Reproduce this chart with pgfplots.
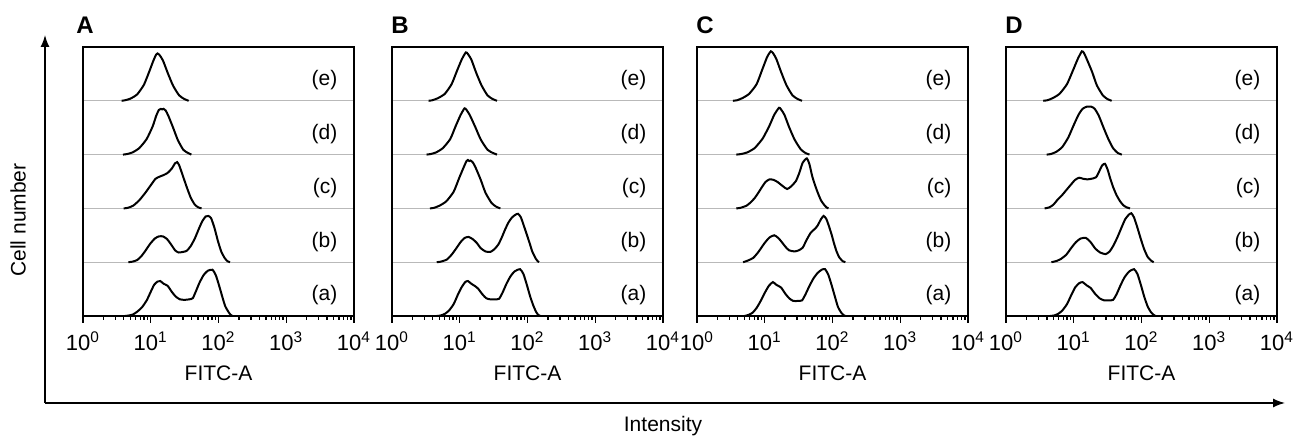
\documentclass[border=0pt]{standalone}
\usepackage{fontspec}
\setmainfont{Liberation Sans}
\usepackage{pgfplots}
\pgfplotsset{compat=1.18}
\usetikzlibrary{arrows.meta}

% x values are log10(FITC-A); y values are stacked histograms (one row per sample)
\pgfplotsset{
  panel/.style={
    scale only axis, width=135.5pt, height=134.5pt, anchor=south west,
    xmin=0, xmax=4, ymin=0, ymax=5, clip=false,
    axis line style={line width=1.1pt},
    xtick={0,1,2,3,4},
    xticklabels={10\textsuperscript{0},10\textsuperscript{1},10\textsuperscript{2},10\textsuperscript{3},10\textsuperscript{4}},
    minor xtick={0.301,0.477,0.602,0.699,0.778,0.845,0.903,0.954,
                 1.301,1.477,1.602,1.699,1.778,1.845,1.903,1.954,
                 2.301,2.477,2.602,2.699,2.778,2.845,2.903,2.954,
                 3.301,3.477,3.602,3.699,3.778,3.845,3.903,3.954},
    xtick pos=bottom, tick align=outside,
    major tick length=3.5pt, minor tick length=2pt,
    tick style={black, line width=0.7pt},
    ytick={1,2,3,4}, yticklabels={}, ymajorgrids,
    y tick style={draw=none},
    major grid style={gray!55, line width=0.6pt},
    tick label style={font=\fontsize{11}{13}\selectfont},
    xticklabel style={yshift=-1pt},
    xlabel={FITC-A},
    xlabel style={at={(axis description cs:0.5,-0.2416)}, anchor=base, font=\fontsize{10.5}{12}\selectfont},
    title style={at={(axis description cs:0,1)}, anchor=base west, inner sep=0pt, xshift=-0.5pt, yshift=0.5pt,
                 font=\bfseries\fontsize{12}{14}\selectfont},
  },
  hist/.style={black, line width=1pt, smooth, tension=0.35, no marks},
  row/.style={hist, y filter/.expression={y+#1}},
}
\newcommand{\rowlabels}{%
  \node[anchor=east, inner sep=0pt, font=\fontsize{10.5}{12}\selectfont] at (axis cs:3.76,4.38) {(e)};
  \node[anchor=east, inner sep=0pt, font=\fontsize{10.5}{12}\selectfont] at (axis cs:3.76,3.38) {(d)};
  \node[anchor=east, inner sep=0pt, font=\fontsize{10.5}{12}\selectfont] at (axis cs:3.76,2.38) {(c)};
  \node[anchor=east, inner sep=0pt, font=\fontsize{10.5}{12}\selectfont] at (axis cs:3.76,1.38) {(b)};
  \node[anchor=east, inner sep=0pt, font=\fontsize{10.5}{12}\selectfont] at (axis cs:3.76,0.38) {(a)};
}

\begin{document}
\begin{tikzpicture}
\path[use as bounding box] (0,0) rectangle (647.5pt,219pt);

% ---------------- A ----------------
\begin{axis}[panel, at={(41.5pt,61pt)}, title={A}, title style={xshift=-3pt}]
\addplot[row=4] coordinates {(0.57,0)(0.62,0.01)(0.70,0.04)(0.80,0.12)(0.90,0.30)(0.98,0.55)(1.04,0.75)(1.08,0.86)(1.10,0.88)(1.13,0.85)(1.18,0.75)(1.25,0.52)(1.33,0.28)(1.42,0.10)(1.50,0.03)(1.56,0)};
\addplot[row=3] coordinates {(0.59,0)(0.65,0.01)(0.73,0.04)(0.83,0.12)(0.94,0.29)(1.03,0.53)(1.08,0.72)(1.12,0.83)(1.15,0.85)(1.17,0.84)(1.19,0.85)(1.22,0.82)(1.26,0.72)(1.33,0.50)(1.40,0.27)(1.48,0.09)(1.55,0.03)(1.60,0)};
\addplot[row=2] coordinates {(0.60,0)(0.66,0.01)(0.74,0.05)(0.83,0.15)(0.92,0.29)(1.00,0.43)(1.07,0.55)(1.13,0.59)(1.19,0.62)(1.25,0.66)(1.31,0.74)(1.36,0.84)(1.39,0.86)(1.42,0.80)(1.47,0.62)(1.53,0.40)(1.59,0.20)(1.65,0.07)(1.70,0.02)(1.75,0)};
\addplot[row=1] coordinates {(0.67,0)(0.73,0.01)(0.80,0.04)(0.86,0.11)(0.92,0.21)(0.99,0.34)(1.06,0.44)(1.12,0.48)(1.18,0.48)(1.24,0.43)(1.30,0.33)(1.36,0.22)(1.41,0.18)(1.47,0.19)(1.53,0.21)(1.59,0.30)(1.65,0.44)(1.71,0.62)(1.76,0.76)(1.81,0.85)(1.85,0.86)(1.89,0.82)(1.94,0.64)(1.99,0.40)(2.04,0.20)(2.09,0.08)(2.13,0.02)(2.17,0)};
\addplot[row=0] coordinates {(0.62,0)(0.68,0.01)(0.74,0.03)(0.80,0.08)(0.87,0.16)(0.94,0.29)(1.00,0.45)(1.05,0.58)(1.10,0.64)(1.14,0.65)(1.19,0.60)(1.25,0.56)(1.31,0.45)(1.37,0.36)(1.43,0.31)(1.50,0.30)(1.57,0.31)(1.62,0.33)(1.67,0.47)(1.72,0.62)(1.78,0.76)(1.84,0.84)(1.91,0.86)(1.96,0.76)(2.01,0.56)(2.06,0.34)(2.10,0.18)(2.15,0.07)(2.18,0.02)(2.21,0)};
\rowlabels
\end{axis}

% ---------------- B ----------------
\begin{axis}[panel, at={(196pt,61pt)}, title={B}]
\addplot[row=4] coordinates {(0.54,0)(0.595,0.01)(0.68,0.05)(0.78,0.13)(0.88,0.31)(0.96,0.56)(1.03,0.77)(1.09,0.90)(1.12,0.87)(1.17,0.77)(1.24,0.53)(1.32,0.29)(1.41,0.10)(1.49,0.03)(1.55,0)};
\addplot[row=3] coordinates {(0.51,0)(0.57,0.01)(0.65,0.04)(0.75,0.12)(0.86,0.29)(0.94,0.53)(1.01,0.73)(1.07,0.86)(1.10,0.83)(1.15,0.73)(1.23,0.51)(1.31,0.28)(1.41,0.09)(1.49,0.03)(1.55,0)};
\addplot[row=2] coordinates {(0.56,0)(0.62,0.01)(0.70,0.05)(0.80,0.13)(0.91,0.31)(0.99,0.56)(1.06,0.77)(1.10,0.88)(1.12,0.90)(1.14,0.88)(1.16,0.89)(1.19,0.86)(1.23,0.77)(1.31,0.53)(1.38,0.29)(1.47,0.10)(1.54,0.03)(1.60,0)};
\addplot[row=1] coordinates {(0.66,0)(0.72,0.01)(0.81,0.05)(0.88,0.14)(0.95,0.26)(1.01,0.37)(1.07,0.45)(1.13,0.47)(1.19,0.43)(1.25,0.36)(1.31,0.26)(1.38,0.20)(1.45,0.19)(1.51,0.24)(1.57,0.33)(1.62,0.46)(1.67,0.61)(1.72,0.74)(1.77,0.83)(1.82,0.88)(1.86,0.90)(1.90,0.84)(1.94,0.70)(1.98,0.55)(2.03,0.36)(2.07,0.20)(2.12,0.07)(2.15,0.02)(2.17,0)};
\addplot[row=0] coordinates {(0.66,0)(0.72,0.01)(0.78,0.04)(0.84,0.10)(0.91,0.22)(0.97,0.39)(1.03,0.54)(1.08,0.63)(1.12,0.65)(1.17,0.60)(1.22,0.56)(1.27,0.51)(1.33,0.41)(1.39,0.33)(1.45,0.31)(1.52,0.31)(1.58,0.32)(1.63,0.43)(1.69,0.60)(1.75,0.74)(1.81,0.83)(1.89,0.87)(1.94,0.78)(1.99,0.58)(2.04,0.36)(2.09,0.18)(2.13,0.07)(2.16,0.02)(2.19,0)};
\rowlabels
\end{axis}

% ---------------- C ----------------
\begin{axis}[panel, at={(348.5pt,61pt)}, title={C}]
\addplot[row=4] coordinates {(0.53,0)(0.59,0.01)(0.67,0.05)(0.77,0.13)(0.88,0.31)(0.96,0.57)(1.03,0.80)(1.06,0.87)(1.09,0.92)(1.12,0.89)(1.17,0.78)(1.24,0.54)(1.32,0.29)(1.41,0.10)(1.49,0.03)(1.55,0)};
\addplot[row=3] coordinates {(0.58,0)(0.65,0.01)(0.74,0.04)(0.85,0.12)(0.97,0.30)(1.07,0.54)(1.14,0.74)(1.21,0.87)(1.24,0.84)(1.29,0.74)(1.36,0.51)(1.44,0.28)(1.53,0.10)(1.60,0.03)(1.66,0)};
\addplot[row=2] coordinates {(0.58,0)(0.64,0.01)(0.73,0.05)(0.79,0.11)(0.85,0.19)(0.90,0.28)(0.95,0.38)(1.01,0.49)(1.07,0.54)(1.13,0.53)(1.19,0.49)(1.26,0.42)(1.33,0.36)(1.39,0.41)(1.46,0.51)(1.51,0.66)(1.56,0.85)(1.62,0.93)(1.66,0.82)(1.70,0.60)(1.74,0.44)(1.78,0.30)(1.83,0.15)(1.88,0.06)(1.91,0.02)(1.94,0)};
\addplot[row=1] coordinates {(0.68,0)(0.75,0.03)(0.83,0.08)(0.90,0.18)(0.95,0.27)(1.00,0.36)(1.07,0.46)(1.14,0.50)(1.20,0.45)(1.26,0.36)(1.31,0.28)(1.36,0.22)(1.44,0.20)(1.50,0.22)(1.56,0.27)(1.62,0.42)(1.68,0.55)(1.74,0.62)(1.78,0.68)(1.83,0.80)(1.87,0.86)(1.91,0.80)(1.95,0.66)(1.99,0.50)(2.02,0.36)(2.06,0.20)(2.10,0.09)(2.15,0.02)(2.19,0)};
\addplot[row=0] coordinates {(0.70,0)(0.76,0.02)(0.82,0.06)(0.88,0.15)(0.94,0.28)(1.00,0.43)(1.06,0.56)(1.12,0.63)(1.17,0.58)(1.24,0.53)(1.30,0.42)(1.36,0.33)(1.42,0.28)(1.49,0.28)(1.55,0.29)(1.60,0.40)(1.66,0.56)(1.72,0.70)(1.78,0.80)(1.84,0.86)(1.89,0.87)(1.94,0.76)(1.99,0.56)(2.04,0.34)(2.08,0.17)(2.13,0.06)(2.16,0.02)(2.19,0)};
\rowlabels
\end{axis}

% ---------------- D ----------------
\begin{axis}[panel, at={(503pt,61pt)}, title={D}]
\addplot[row=4] coordinates {(0.55,0)(0.61,0.01)(0.69,0.05)(0.79,0.13)(0.90,0.31)(0.99,0.57)(1.06,0.78)(1.12,0.92)(1.15,0.89)(1.19,0.78)(1.27,0.54)(1.34,0.29)(1.43,0.10)(1.50,0.03)(1.56,0)};
\addplot[row=3] coordinates {(0.60,0)(0.66,0.01)(0.74,0.05)(0.83,0.14)(0.92,0.32)(1.00,0.55)(1.07,0.74)(1.13,0.85)(1.19,0.89)(1.26,0.89)(1.31,0.85)(1.37,0.72)(1.44,0.50)(1.51,0.29)(1.58,0.12)(1.65,0.03)(1.71,0)};
\addplot[row=2] coordinates {(0.57,0)(0.64,0.02)(0.70,0.07)(0.76,0.16)(0.83,0.25)(0.89,0.34)(0.95,0.43)(1.02,0.53)(1.08,0.57)(1.14,0.55)(1.20,0.54)(1.26,0.55)(1.33,0.58)(1.38,0.70)(1.42,0.80)(1.46,0.83)(1.50,0.72)(1.54,0.55)(1.58,0.40)(1.63,0.25)(1.68,0.14)(1.73,0.06)(1.78,0.02)(1.83,0)};
\addplot[row=1] coordinates {(0.67,0)(0.74,0.02)(0.81,0.06)(0.89,0.14)(0.96,0.26)(1.03,0.37)(1.10,0.44)(1.18,0.45)(1.25,0.37)(1.32,0.25)(1.39,0.18)(1.47,0.15)(1.53,0.20)(1.59,0.32)(1.65,0.48)(1.71,0.66)(1.76,0.80)(1.81,0.88)(1.85,0.91)(1.89,0.83)(1.94,0.64)(1.99,0.43)(2.04,0.24)(2.09,0.10)(2.14,0.03)(2.18,0)};
\addplot[row=0] coordinates {(0.65,0)(0.71,0.01)(0.77,0.04)(0.83,0.10)(0.90,0.22)(0.96,0.38)(1.02,0.53)(1.08,0.61)(1.13,0.63)(1.19,0.57)(1.25,0.52)(1.31,0.42)(1.38,0.33)(1.45,0.29)(1.52,0.29)(1.58,0.30)(1.63,0.40)(1.69,0.57)(1.75,0.72)(1.82,0.83)(1.89,0.87)(1.94,0.78)(1.99,0.58)(2.04,0.36)(2.09,0.18)(2.14,0.07)(2.18,0.02)(2.21,0)};
\rowlabels
\end{axis}

% outer axes
\draw[line width=0.7pt, -{Latex[length=6pt,width=4.5pt]}] (22.5pt,17.5pt) -- (642.5pt,17.5pt);
\draw[line width=0.7pt, -{Latex[length=6pt,width=4.5pt]}] (22.5pt,17.5pt) -- (22.5pt,201.5pt);
\node[rotate=90, font=\fontsize{10.5}{12}\selectfont] at (9pt,109pt) {Cell number};
\node[anchor=base, font=\fontsize{10.5}{12}\selectfont] at (331.5pt,3pt) {Intensity};
\end{tikzpicture}
\end{document}
